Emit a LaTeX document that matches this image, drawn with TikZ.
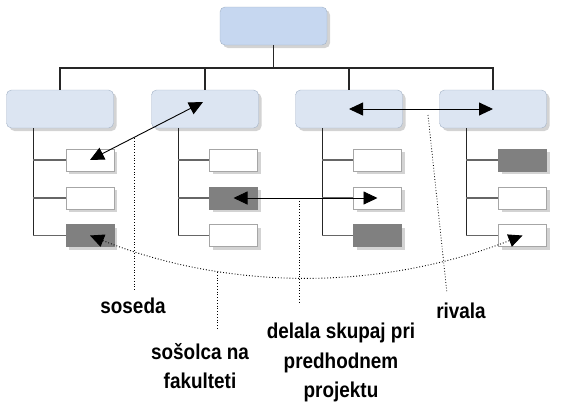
\documentclass[tikz,border=0pt]{standalone}
\usepackage{fontspec}
\newfontfamily\lblfont{Liberation Sans}[FakeStretch = 0.88]
\usepackage{tikz}
\usetikzlibrary{arrows.meta}
\usetikzlibrary{shadows}
\definecolor{topblue}{HTML}{C6D7F0}
\definecolor{midblue}{HTML}{DCE5F2}
\definecolor{boxline}{HTML}{A3B2C6}
\definecolor{leafline}{HTML}{A6A6A6}
\definecolor{leafgrey}{HTML}{808080}

\begin{document}
\begin{tikzpicture}[x=1pt, y=-1pt]
				\tikzset{unit/.style={shape = rectangle, rounded corners = 5pt, draw = boxline,
						minimum width = 107pt, minimum height = 38pt,
						drop shadow = {shadow xshift = 3pt, shadow yshift = -3pt, opacity = 0.35}}}
				\tikzset{topunit/.style={unit, fill = topblue}}
				\tikzset{midunit/.style={unit, fill = midblue}}
				\tikzset{member/.style={shape = rectangle, draw = leafline, fill = white,
						minimum width = 48pt, minimum height = 22pt,
						drop shadow = {shadow xshift = 3pt, shadow yshift = -3pt, opacity = 0.35}}}
				\tikzset{darkmember/.style={member, draw = leafgrey, fill = leafgrey}}
				\tikzset{trunk/.style={line width = 1.1pt, black!85}}
				\tikzset{arm/.style={line width = 1.1pt, black!60}}
				\tikzset{tie/.style={<->, >={Triangle[length = 14pt, width = 13pt]}, line width = 0.9pt}}
				\tikzset{leader/.style={dotted, line width = 0.8pt}}
				\tikzset{lbl/.style={anchor = north, inner sep = 0pt, align = center,
						font = \lblfont\bfseries\fontsize{21.5pt}{29.5pt}\selectfont}}
				\useasboundingbox (0,0) rectangle (561,405);
				%units
				\node[topunit] (t) at (273.5,26) {};
				\node[midunit] (b1) at (60,109) {};
				\node[midunit] (b2) at (205,109) {};
				\node[midunit] (b3) at (349,109) {};
				\node[midunit] (b4) at (493,109) {};
				%members
				\node[member] (c11) at (90,160) {};
				\node[member] (c12) at (90,198) {};
				\node[darkmember] (c13) at (90,235.5) {};
				\node[member] (c21) at (233.5,160) {};
				\node[darkmember] (c22) at (233.5,198) {};
				\node[member] (c23) at (233.5,235.5) {};
				\node[member] (c31) at (377.5,160) {};
				\node[member] (c32) at (377.5,198) {};
				\node[darkmember] (c33) at (377.5,235.5) {};
				\node[darkmember] (c41) at (522.5,160) {};
				\node[member] (c42) at (522.5,198) {};
				\node[member] (c43) at (522.5,235.5) {};
				%tree
				\coordinate (hub) at (273.5,68);
				\draw[trunk] (t) -- (hub);
				\foreach \n in {1,...,4}
				\draw[trunk] (hub) -| (b\n.north);
				\foreach \n in {1,...,4} {
					\coordinate (k\n) at ([xshift = 27pt]b\n.south west);
					\draw[trunk] (k\n) -- (k\n |- c\n3);
					\draw[arm] (k\n |- c\n1) -- (c\n1.west);
					\draw[arm] (k\n |- c\n2) -- (c\n2.west);
					\draw[arm] (k\n |- c\n3) -- (c\n3.west);
				}
				%ties
				\draw[tie] (c11.center) -- ([shift = {(-2,-7)}]b2.center);
				\draw[tie] (c22.center) -- (c32.center);
				\draw[tie] (b3.center) -- (b4.center);
				\draw[tie, dotted] (c13.center) .. controls (230,291) and (380,291) .. (c43.center);
				%labels
				\node[lbl] (soseda) at (133,298) {soseda};
				\node[lbl] (sosolka) at (200,343) {sošolca na\\fakulteti};
				\node[lbl] (projekt) at (341,323) {delala skupaj pri\\predhodnem\\projektu};
				\node[lbl] (rivala) at (461,303) {rivala};
				\coordinate (p1) at (134,138);
				\coordinate (p2) at (217,272);
				\coordinate (p3) at (299,198);
				\coordinate (p4) at (428,115);
				\draw[leader, shorten >= 8pt] (p1) -- (p1 |- soseda.north);
				\draw[leader, shorten >= 13pt] (p2) -- (p2 |- sosolka.north);
				\draw[leader, shorten >= 20pt] (p3) -- (p3 |- projekt.north);
				\draw[leader, shorten >= 10pt] (p4) -- ([xshift = -13pt]rivala.north);
\end{tikzpicture}
\end{document}
